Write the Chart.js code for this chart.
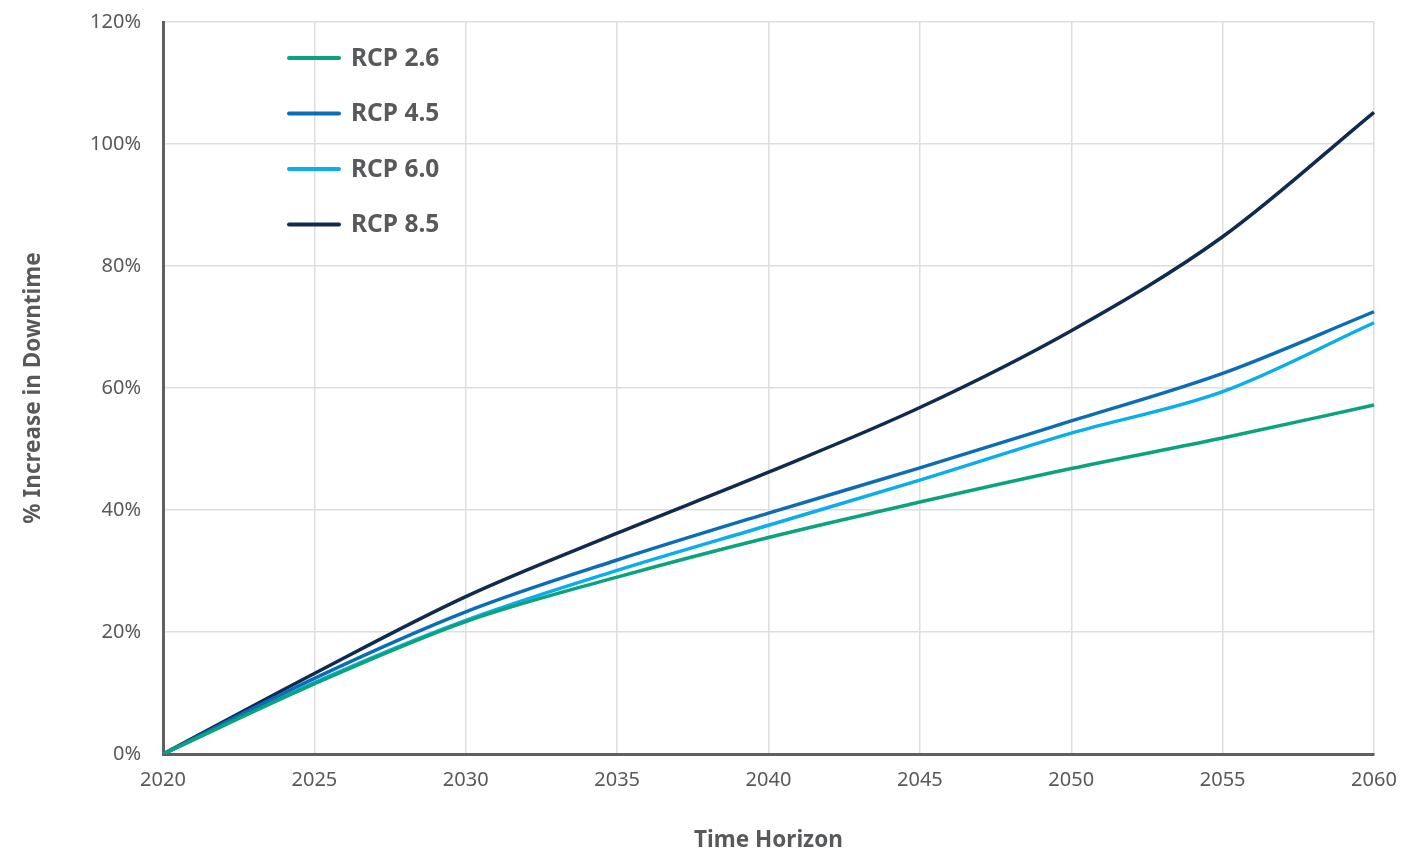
<!DOCTYPE html>
<html>
<head>
<meta charset="utf-8">
<title>% Increase in Downtime</title>
<script src="https://cdn.jsdelivr.net/npm/chart.js@4.4.1/dist/chart.umd.min.js"></script>
<style>
  html, body { margin: 0; padding: 0; background: #fff; }
  #wrap { width: 1402px; height: 854px; position: relative; }
</style>
</head>
<body>
<div id="wrap"><canvas id="downtimeChart"></canvas></div>
<script>
const years = ['2020', '2025', '2030', '2035', '2040', '2045', '2050', '2055', '2060'];
const rcp26 = [0, 11.5, 21.7, 29.0, 35.5, 41.3, 46.8, 51.8, 57.2];
const rcp45 = [0, 12.4, 23.3, 31.8, 39.5, 46.9, 54.6, 62.4, 72.5];
const rcp60 = [0, 11.7, 21.9, 30.1, 37.5, 44.9, 52.6, 59.4, 70.7];
const rcp85 = [0, 13.2, 25.8, 36.2, 46.2, 56.8, 69.4, 84.8, 105.2];
const yTicks = [0, 20, 40, 60, 80, 100, 120];

const textColor = '#58595b';
const fontFamily = '"Noto Sans", "Open Sans", sans-serif';

// legend drawn inside the plot, top-left
const insideLegend = {
    id: 'insideLegend',
    afterDraw(chart) {
        const ctx = chart.ctx;
        ctx.save();
        chart.data.datasets.forEach((ds, i) => {
            const y = 58 + i * 55.5;
            ctx.strokeStyle = ds.borderColor;
            ctx.lineWidth = 4;
            ctx.lineCap = 'round';
            ctx.beginPath();
            ctx.moveTo(289, y);
            ctx.lineTo(339, y);
            ctx.stroke();
            ctx.fillStyle = textColor;
            ctx.font = 'bold 24.5px ' + fontFamily;
            ctx.textBaseline = 'middle';
            ctx.textAlign = 'left';
            ctx.fillText(ds.label, 351, y + 1);
        });
        ctx.restore();
    }
};

const ctx = document.getElementById('downtimeChart').getContext('2d');
const chart = new Chart(ctx, {
    type: 'line',
    data: {
        labels: years,
        datasets: [
            { label: 'RCP 2.6', data: rcp26, borderColor: '#0ba37e' },
            { label: 'RCP 4.5', data: rcp45, borderColor: '#0a6db5' },
            { label: 'RCP 6.0', data: rcp60, borderColor: '#0aaeea' },
            { label: 'RCP 8.5', data: rcp85, borderColor: '#0f2b50' }
        ].map(d => Object.assign(d, {
            borderWidth: 3.5,
            pointRadius: 0,
            fill: false,
            cubicInterpolationMode: 'monotone'
        }))
    },
    options: {
        responsive: true,
        maintainAspectRatio: false,
        animation: false,
        layout: { padding: { top: 22, right: 28, bottom: 0, left: 0 } },
        plugins: {
            legend: { display: false },
            tooltip: { enabled: false }
        },
        scales: {
            x: {
                grid: { color: '#dedede', lineWidth: 1.5, drawTicks: false },
                border: { display: true, color: '#5f6062', width: 3 },
                ticks: {
                    color: textColor,
                    font: { family: fontFamily, size: 20 },
                    padding: 14,
                    maxRotation: 0
                },
                title: {
                    display: true,
                    text: 'Time Horizon',
                    color: textColor,
                    font: { family: fontFamily, size: 22.5, weight: 'bold' },
                    padding: { top: 0, bottom: 0 }
                },
                afterFit(scale) {
                    scale.height = 100;
                    scale.paddingLeft = 0;
                    scale.paddingRight = 0;
                }
            },
            y: {
                min: 0,
                max: 120,
                afterBuildTicks(scale) { scale.ticks = yTicks.map(v => ({ value: v })); },
                grid: { color: '#dedede', lineWidth: 1.5, drawTicks: false },
                border: { display: true, color: '#5f6062', width: 3 },
                ticks: {
                    color: textColor,
                    font: { family: fontFamily, size: 20 },
                    padding: 22,
                    callback: v => v + '%'
                },
                title: {
                    display: true,
                    text: '% Increase in Downtime',
                    color: textColor,
                    font: { family: fontFamily, size: 22.5, weight: 'bold' },
                    padding: { top: 20, bottom: 20 }
                },
                afterFit(scale) {
                    scale.width = 163;
                    scale.paddingTop = 0;
                    scale.paddingBottom = 0;
                }
            }
        }
    },
    plugins: [insideLegend]
});
</script>
</body>
</html>
